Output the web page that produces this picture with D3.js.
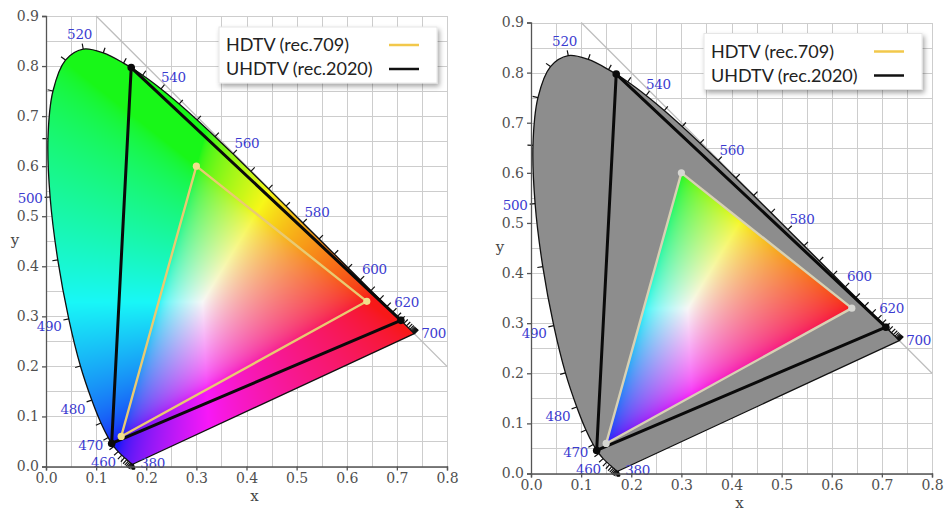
<!DOCTYPE html>
<html>
<head>
<meta charset="utf-8">
<script src="https://cdn.jsdelivr.net/npm/d3@7"></script>
<style>
  body { margin: 0; background: #fff; }
  svg { display: block; }
</style>
</head>
<body>
<svg id="chart" width="944" height="511"></svg>
<script>
// CIE 1931 2° spectral locus, chromaticity (x, y) every 5 nm
const wavelengths = [380, 385, 390, 395, 400, 405, 410, 415, 420, 425, 430, 435, 440, 445, 450, 455,
  460, 465, 470, 475, 480, 485, 490, 495, 500, 505, 510, 515, 520, 525, 530, 535, 540, 545, 550, 555,
  560, 565, 570, 575, 580, 585, 590, 595, 600, 605, 610, 615, 620, 625, 630, 635, 640, 645, 650, 655,
  660, 665, 670, 675, 680, 685, 690, 695, 700];
const locusX = [0.1741, 0.1740, 0.1738, 0.1736, 0.1733, 0.1730, 0.1726, 0.1721, 0.1714, 0.1703, 0.1689,
  0.1669, 0.1644, 0.1611, 0.1566, 0.1510, 0.1440, 0.1355, 0.1241, 0.1096, 0.0913, 0.0687, 0.0454, 0.0235,
  0.0082, 0.0039, 0.0139, 0.0389, 0.0743, 0.1142, 0.1547, 0.1929, 0.2296, 0.2658, 0.3016, 0.3373, 0.3731,
  0.4087, 0.4441, 0.4788, 0.5125, 0.5448, 0.5752, 0.6029, 0.6270, 0.6482, 0.6658, 0.6801, 0.6915, 0.7006,
  0.7079, 0.7140, 0.7190, 0.7230, 0.7260, 0.7283, 0.7300, 0.7311, 0.7320, 0.7327, 0.7334, 0.7340, 0.7344,
  0.7346, 0.7347];
const locusY = [0.0050, 0.0050, 0.0049, 0.0049, 0.0048, 0.0048, 0.0048, 0.0048, 0.0051, 0.0058, 0.0069,
  0.0086, 0.0109, 0.0138, 0.0177, 0.0227, 0.0297, 0.0399, 0.0578, 0.0868, 0.1327, 0.2007, 0.2950, 0.4127,
  0.5384, 0.6548, 0.7502, 0.8120, 0.8338, 0.8262, 0.8059, 0.7816, 0.7543, 0.7243, 0.6923, 0.6589, 0.6245,
  0.5896, 0.5547, 0.5202, 0.4866, 0.4544, 0.4242, 0.3965, 0.3725, 0.3514, 0.3340, 0.3197, 0.3083, 0.2993,
  0.2920, 0.2859, 0.2809, 0.2770, 0.2740, 0.2717, 0.2700, 0.2689, 0.2680, 0.2673, 0.2666, 0.2660, 0.2656,
  0.2654, 0.2653];
const labelledWavelengths = [380, 460, 470, 480, 490, 500, 520, 540, 560, 580, 600, 620, 700];

// Gamut primaries (R, G, B)
const rec709X = [0.64, 0.30, 0.15];
const rec709Y = [0.33, 0.60, 0.06];
const rec2020X = [0.708, 0.170, 0.131];
const rec2020Y = [0.292, 0.797, 0.046];
const seriesNames = ["HDTV (rec.709)", "UHDTV (rec.2020)"];

const xTicks = [0.0, 0.1, 0.2, 0.3, 0.4, 0.5, 0.6, 0.7, 0.8];
const yTicks = [0.0, 0.1, 0.2, 0.3, 0.4, 0.5, 0.6, 0.7, 0.8, 0.9];
const gridStep = 0.05;
const whitePoint = [0.3127, 0.3290];

const locus = wavelengths.map((w, i) => ({ w, x: locusX[i], y: locusY[i] }));
const tri709 = rec709X.map((x, i) => [x, rec709Y[i]]);
const tri2020 = rec2020X.map((x, i) => [x, rec2020Y[i]]);

const svg = d3.select("#chart");
const defs = svg.append("defs");
defs.append("filter").attr("id", "legendShadow")
  .attr("x", "-10%").attr("y", "-20%").attr("width", "130%").attr("height", "160%")
  .append("feDropShadow").attr("dx", 2).attr("dy", 3).attr("stdDeviation", 2.5)
  .attr("flood-color", "#000").attr("flood-opacity", 0.35);

// chromaticity -> display colour (full brightness, clipped to sRGB)
function xyToRgb(x, y) {
  if (y <= 0.0001) y = 0.0001;
  const X = x / y, Y = 1, Z = (1 - x - y) / y;
  let r = 3.2406 * X - 1.5372 * Y - 0.4986 * Z;
  let g = -0.9689 * X + 1.8758 * Y + 0.0415 * Z;
  let b = 0.0557 * X - 0.2040 * Y + 1.0570 * Z;
  r = Math.max(r, 0); g = Math.max(g, 0); b = Math.max(b, 0);
  const m = Math.max(r, g, b) || 1;
  const enc = v => {
    v = 0.93 * (v / m * 0.99 + 0.01);
    return 255 * (v <= 0.0031308 ? 12.92 * v : 1.055 * Math.pow(v, 1 / 2.4) - 0.055);
  };
  return [enc(r), enc(g), enc(b)];
}

function colourRaster(xs, ys) {
  const [x0, x1] = xs.range();
  const [yb, yt] = ys.range();
  const w = Math.ceil(x1 - x0), h = Math.ceil(yb - yt);
  const canvas = document.createElement("canvas");
  canvas.width = w; canvas.height = h;
  const ctx = canvas.getContext("2d");
  const img = ctx.createImageData(w, h);
  for (let j = 0; j < h; j++) {
    const cy = ys.invert(yt + j + 0.5);
    for (let i = 0; i < w; i++) {
      const cx = xs.invert(x0 + i + 0.5);
      const [r, g, b] = xyToRgb(cx, cy);
      const k = (j * w + i) * 4;
      img.data[k] = r; img.data[k + 1] = g; img.data[k + 2] = b; img.data[k + 3] = 255;
    }
  }
  ctx.putImageData(img, 0, 0);
  return { href: canvas.toDataURL(), x: x0, y: yt, w, h };
}

function drawChart(id, xs, ys, mode) {
  const g = svg.append("g").attr("class", "chart-" + id);
  const [px0, px1] = xs.range();
  const [pyb, pyt] = ys.range();

  // grid
  const gx = d3.range(0, 0.8 + 1e-9, gridStep);
  const gy = d3.range(0, 0.9 + 1e-9, gridStep);
  const grid = g.append("g").attr("stroke", "#cdcdcd").attr("stroke-width", 1).attr("shape-rendering", "crispEdges");
  grid.selectAll("line.v").data(gx).join("line").attr("class", "v")
    .attr("x1", d => Math.round(xs(d)) + 0.5).attr("x2", d => Math.round(xs(d)) + 0.5)
    .attr("y1", pyb).attr("y2", pyt);
  grid.selectAll("line.h").data(gy).join("line").attr("class", "h")
    .attr("y1", d => Math.round(ys(d)) + 0.5).attr("y2", d => Math.round(ys(d)) + 0.5)
    .attr("x1", px0).attr("x2", px1);

  // x + y = 1 boundary
  g.append("line")
    .attr("x1", xs(0.1)).attr("y1", ys(0.9)).attr("x2", xs(0.8)).attr("y2", ys(0.2))
    .attr("stroke", "#bdbdbd").attr("stroke-width", 1.3);

  const locusLine = d3.line().x(d => xs(d.x)).y(d => ys(d.y)).curve(d3.curveCatmullRom);
  const locusPath = locusLine(locus) + "Z";
  const triLine = d3.line().x(d => xs(d[0])).y(d => ys(d[1]));

  const raster = colourRaster(xs, ys);
  if (mode === "full") {
    defs.append("clipPath").attr("id", "clip-" + id).append("path").attr("d", locusPath);
  } else {
    g.append("path").attr("d", locusPath).attr("fill", "#8d8d8d");
    defs.append("clipPath").attr("id", "clip-" + id).append("path").attr("d", triLine(tri709) + "Z");
  }
  g.append("image").attr("href", raster.href)
    .attr("x", raster.x).attr("y", raster.y).attr("width", raster.w).attr("height", raster.h)
    .attr("preserveAspectRatio", "none").attr("clip-path", `url(#clip-${id})`);

  // locus outline
  g.append("path").attr("d", locusPath).attr("fill", "none")
    .attr("stroke", "#111").attr("stroke-width", 1.3).attr("stroke-linejoin", "round");

  // wavelength ticks, outward normals in pixel space
  const wpx = [xs(whitePoint[0]), ys(whitePoint[1])];
  const pts = locus.map(d => [xs(d.x), ys(d.y)]);
  const normals = pts.map((p, i) => {
    const a = pts[Math.max(0, i - 1)], b = pts[Math.min(pts.length - 1, i + 1)];
    const tx = b[0] - a[0], ty = b[1] - a[1];
    const len = Math.hypot(tx, ty) || 1;
    let nx = ty / len, ny = -tx / len;
    if (nx * (p[0] - wpx[0]) + ny * (p[1] - wpx[1]) < 0) { nx = -nx; ny = -ny; }
    return [nx, ny];
  });
  g.append("g").attr("stroke", "#111").attr("stroke-width", 1.2)
    .selectAll("line").data(locus).join("line")
    .attr("x1", (d, i) => pts[i][0]).attr("y1", (d, i) => pts[i][1])
    .attr("x2", (d, i) => pts[i][0] + normals[i][0] * 5.5)
    .attr("y2", (d, i) => pts[i][1] + normals[i][1] * 5.5);

  // wavelength labels
  const ends = [wavelengths[0], wavelengths[wavelengths.length - 1]];
  g.append("g").attr("fill", "#3b3bd0").attr("font-family", "'DejaVu Serif', serif").attr("font-size", 13.5)
    .attr("letter-spacing", -0.3)
    .selectAll("text").data(labelledWavelengths).join("text")
    .each(function (w) {
      const i = wavelengths.indexOf(w);
      const [nx, ny] = normals[i];
      const t = d3.select(this).text(w).attr("dominant-baseline", "central");
      if (ends.includes(w)) {
        t.attr("text-anchor", "start").attr("x", pts[i][0] + 7).attr("y", pts[i][1] - 0.5);
      } else {
        t.attr("text-anchor", "middle")
          .attr("x", pts[i][0] + nx * 20)
          .attr("y", pts[i][1] + ny * 15 + (nx < -0.5 && ny > 0.1 && ny < 0.4 ? 4 : 0));
      }
    });

  // gamut triangles
  const col709 = mode === "full" ? "#e9ca72" : "#d8d1b4";
  const dot709 = mode === "full" ? "#f1e08c" : "#d6d6d2";
  g.append("path").attr("d", triLine(tri2020) + "Z").attr("fill", "none")
    .attr("stroke", "#0a0a0a").attr("stroke-width", 3).attr("stroke-linejoin", "round");
  g.append("path").attr("d", triLine(tri709) + "Z").attr("fill", "none")
    .attr("stroke", col709).attr("stroke-width", 2.4).attr("stroke-linejoin", "round");
  g.selectAll("circle.r2020").data(tri2020).join("circle").attr("class", "r2020")
    .attr("cx", d => xs(d[0])).attr("cy", d => ys(d[1])).attr("r", 3.8).attr("fill", "#0a0a0a");
  g.selectAll("circle.r709").data(tri709).join("circle").attr("class", "r709")
    .attr("cx", d => xs(d[0])).attr("cy", d => ys(d[1])).attr("r", 3.6).attr("fill", dot709);

  // axes
  const xAxis = d3.axisBottom(xs).tickValues(xTicks).tickFormat(d3.format(".1f")).tickSize(4).tickPadding(3);
  const yAxis = d3.axisLeft(ys).tickValues(yTicks).tickFormat(d3.format(".1f")).tickSize(4).tickPadding(3);
  const ax = g.append("g").attr("transform", `translate(0,${pyb})`).call(xAxis);
  const ay = g.append("g").attr("transform", `translate(${px0},0)`).call(yAxis);
  [ax, ay].forEach(a => {
    a.select(".domain").attr("stroke", "#555").attr("stroke-width", 1.3);
    a.selectAll(".tick line").attr("stroke", "#555").attr("stroke-width", 1.3);
    a.selectAll(".tick text").attr("fill", "#505050").attr("font-family", "'DejaVu Serif', serif").attr("font-size", 14);
  });

  g.append("text").text("x").attr("x", xs(0.4) + 8).attr("y", pyb + 34)
    .attr("text-anchor", "middle").attr("fill", "#444")
    .attr("font-family", "'DejaVu Serif', serif").attr("font-size", 15);
  g.append("text").text("y").attr("x", px0 - 31).attr("y", ys(0.45) + 4)
    .attr("text-anchor", "middle").attr("fill", "#444")
    .attr("font-family", "'DejaVu Serif', serif").attr("font-size", 15);

  // legend
  const lw = 218, lh = 56;
  const lx = px1 - 10 - lw, ly = pyt + 11;
  const lg = g.append("g").attr("transform", `translate(${lx},${ly})`);
  lg.append("rect").attr("width", lw).attr("height", lh).attr("fill", "#fff")
    .attr("stroke", "#e6e6e6").attr("filter", "url(#legendShadow)");
  const legendColours = ["#f2c84b", "#111"];
  seriesNames.forEach((name, i) => {
    lg.append("text").text(name).attr("x", 7).attr("y", 17 + i * 24)
      .attr("dominant-baseline", "central").attr("fill", "#222")
      .attr("font-family", "Lato, sans-serif").attr("font-size", 18);
    lg.append("line").attr("x1", 170).attr("x2", 200).attr("y1", 18 + i * 24).attr("y2", 18 + i * 24)
      .attr("stroke", legendColours[i]).attr("stroke-width", 2.5);
  });
}

const xsLeft = d3.scaleLinear().domain([0, 0.8]).range([46, 447]);
const ysLeft = d3.scaleLinear().domain([0, 0.9]).range([466.5, 16]);
const xsRight = d3.scaleLinear().domain([0, 0.8]).range([531, 932]);
const ysRight = d3.scaleLinear().domain([0, 0.9]).range([473.5, 22.5]);

drawChart("full", xsLeft, ysLeft, "full");
drawChart("rec709", xsRight, ysRight, "rec709");
</script>
</body>
</html>
